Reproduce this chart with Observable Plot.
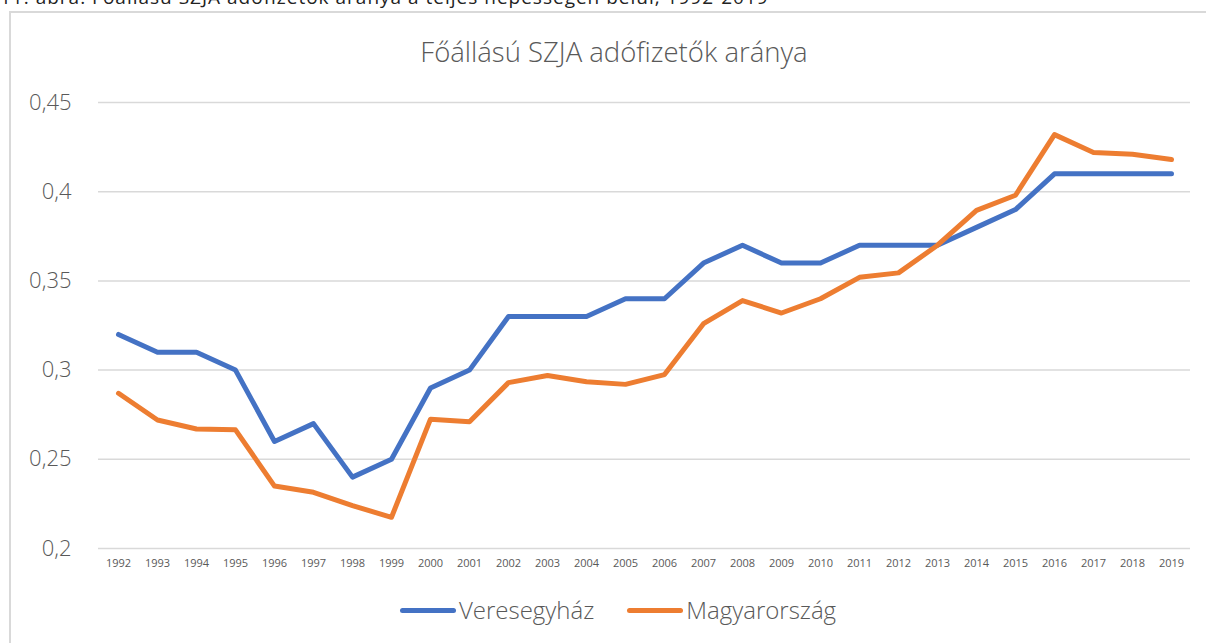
<!DOCTYPE html>
<html>
<head>
<meta charset="utf-8">
<script src="https://cdn.jsdelivr.net/npm/d3@7"></script>
<script src="https://cdn.jsdelivr.net/npm/@observablehq/plot@0.6"></script>
<style>
  html, body { margin: 0; padding: 0; background: #fff; width: 1206px; height: 643px; overflow: hidden; position: relative; font-family: "Open Sans", sans-serif; }
  #caption { position: absolute; left: 0; top: -14px; font-family: "Open Sans", sans-serif; font-size: 19px; line-height: 22px; color: #222; white-space: nowrap; letter-spacing: 1px; }
  #box { position: absolute; left: 9px; top: 11px; width: 1300px; height: 700px; border: 2px solid #d9d9d9; box-sizing: border-box; }
  #title { position: absolute; left: 0; width: 1228px; top: 33px; text-align: center; font-size: 27.5px; font-weight: 300; color: #595959; line-height: 38px; }
  #chart { position: absolute; left: 0; top: 0; }
  #legend { position: absolute; top: 594px; left: 0; width: 1236px; display: flex; justify-content: center; gap: 33px; font-size: 24px; font-weight: 300; color: #595959; line-height: 32px; }
  .item { display: flex; align-items: center; }
  .sw { display: inline-block; width: 56px; height: 5px; border-radius: 3px; margin-right: 3px; }
</style>
</head>
<body>
<div id="caption">11. ábra: Főállású SZJA adófizetők aránya a teljes népességen belül, 1992-2019</div>
<div id="box"></div>
<div id="title">Főállású SZJA adófizetők aránya</div>
<div id="chart"></div>
<div id="legend">
  <div class="item"><span class="sw" style="background:#4472C4"></span><span>Veresegyház</span></div>
  <div class="item"><span class="sw" style="background:#ED7D31"></span><span>Magyarország</span></div>
</div>
<script>
const years = [1992,1993,1994,1995,1996,1997,1998,1999,2000,2001,2002,2003,2004,2005,2006,2007,2008,2009,2010,2011,2012,2013,2014,2015,2016,2017,2018,2019];
const veresegyhaz = [0.32,0.31,0.31,0.30,0.26,0.27,0.24,0.25,0.29,0.30,0.33,0.33,0.33,0.34,0.34,0.36,0.37,0.36,0.36,0.37,0.37,0.37,0.38,0.39,0.41,0.41,0.41,0.41];
const magyarorszag = [0.287,0.272,0.267,0.2665,0.235,0.2315,0.224,0.2175,0.2725,0.271,0.293,0.297,0.2935,0.292,0.2975,0.326,0.339,0.332,0.340,0.352,0.3545,0.370,0.3895,0.398,0.432,0.422,0.421,0.418];
const seriesNames = ["Veresegyház","Magyarország"];
const seriesColors = ["#4472C4","#ED7D31"];
const yTicks = [0.2,0.25,0.3,0.35,0.4,0.45];

const rows = [];
years.forEach((y,i) => {
  rows.push({year: String(y), value: veresegyhaz[i], series: seriesNames[0]});
  rows.push({year: String(y), value: magyarorszag[i], series: seriesNames[1]});
});

const chart = Plot.plot({
  width: 1206,
  height: 580,
  marginLeft: 98,
  marginRight: 16,
  marginTop: 102,
  marginBottom: 32,
  style: {fontFamily: "Open Sans, sans-serif", background: "transparent", overflow: "visible"},
  x: {type: "point", domain: years.map(String), padding: 0.5},
  y: {domain: [0.2, 0.45]},
  color: {domain: seriesNames, range: seriesColors},
  marks: [
    Plot.ruleY(yTicks, {stroke: "#d9d9d9", strokeWidth: 1.5}),
    Plot.axisY({ticks: yTicks, tickSize: 0, tickPadding: 27, fontSize: 22, fontWeight: 300, fill: "#595959", label: null, tickFormat: d => String(d).replace(".", ",")}),
    Plot.axisX({tickSize: 0, tickPadding: 11, fontSize: 11, fill: "#595959", label: null}),
    Plot.line(rows, {x: "year", y: "value", z: "series", stroke: "series", strokeWidth: 5, strokeLinecap: "round", strokeLinejoin: "round"})
  ]
});
document.getElementById("chart").appendChild(chart);
</script>
</body>
</html>
